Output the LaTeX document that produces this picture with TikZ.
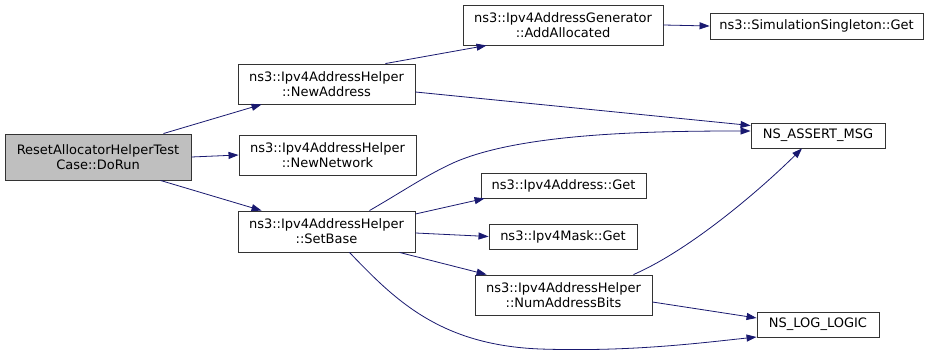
\documentclass[tikz,border=0pt]{standalone}
\usepackage{fontspec}
\setmainfont{DejaVu Sans}
\usetikzlibrary{arrows.meta}
\definecolor{edgeblue}{HTML}{191970}
\definecolor{boxgray}{HTML}{BFBFBF}
\begin{document}
\begin{tikzpicture}[x=1pt,y=-1pt,
  fn/.style={draw=black!80, line width=0.9pt, fill=white, inner sep=0pt,
    align=center, font=\fontsize{13}{15}\selectfont},
  root/.style={fn, fill=boxgray},
  call/.style={draw=edgeblue, line width=0.8pt,
    -{Triangle[length=10pt,width=7pt]}}]
\useasboundingbox (0,0) rectangle (931,355);
\fill[white] (0,0) rectangle (931,355);

% caller and its direct callees
\node[root, minimum width=186pt, minimum height=46pt] (run) at (98,157)
  {ResetAllocatorHelperTest\\Case::DoRun};
\node[fn, minimum width=177pt, minimum height=40pt] (newaddr) at (326.5,84)
  {ns3::Ipv4AddressHelper\\::NewAddress};
\node[fn, minimum width=177pt, minimum height=40pt] (newnet) at (327.5,155)
  {ns3::Ipv4AddressHelper\\::NewNetwork};
\node[fn, minimum width=177pt, minimum height=41pt] (setbase) at (326.5,231.5)
  {ns3::Ipv4AddressHelper\\::SetBase};

% second level
\node[fn, minimum width=200pt, minimum height=40pt] (addalloc) at (563,25)
  {ns3::Ipv4AddressGenerator\\::AddAllocated};
\node[fn, minimum width=165pt, minimum height=25pt] (addrget) at (563.5,185.5)
  {ns3::Ipv4Address::Get};
\node[fn, minimum width=148pt, minimum height=25pt] (maskget) at (563,236.5)
  {ns3::Ipv4Mask::Get};
\node[fn, minimum width=177pt, minimum height=40pt] (numbits) at (563.5,295)
  {ns3::Ipv4AddressHelper\\::NumAddressBits};

% third level
\node[fn, minimum width=213pt, minimum height=26pt] (singleton) at (816.5,26)
  {ns3::SimulationSingleton::Get};
\node[fn, minimum width=134pt, minimum height=25pt] (assert) at (818,135.5)
  {NS\_ASSERT\_MSG};
\node[fn, minimum width=122pt, minimum height=25pt] (loglogic) at (818,324.5)
  {NS\_LOG\_LOGIC};

% calls (yshift is in canvas direction: positive moves up)
\draw[call] (run.north east) ++(-28,0) -- ([xshift=24pt]newaddr.south west);
\draw[call] (run.east) -- (newnet.west);
\draw[call] (run.south east) ++(-31,0) -- ([xshift=24pt]setbase.north west);

\draw[call] (newaddr.north east) ++(-30,0) -- ([xshift=24pt]addalloc.south west);
\draw[call] (addalloc.east) -- (singleton.west);
\draw[call] ([yshift=-8pt]newaddr.east) -- ([yshift=10pt]assert.west);

\draw[call] ([xshift=43pt]setbase.north) .. controls (405,190) and (425,176) ..
  (453,163) .. controls (520,133) and (650,131) .. ([yshift=4.5pt]assert.west);
\draw[call] ([yshift=17.5pt]setbase.east) -- ([xshift=4pt]addrget.south west);
\draw[call] ([yshift=-1.5pt]setbase.east) -- (maskget.west);
\draw[call] ([xshift=73pt]setbase.south) -- ([xshift=12pt]numbits.north west);
\draw[call] ([xshift=23pt]setbase.south) .. controls (395,300) and (440,345) ..
  (540,349) .. controls (630,352) and (700,343) .. ([yshift=-12.5pt]loglogic.west);

\draw[call] ([xshift=70pt]numbits.north) .. controls (690,250) and (760,190) ..
  ([xshift=-16pt]assert.south);
\draw[call] ([yshift=-7pt]numbits.east) -- ([yshift=6.5pt]loglogic.west);
\end{tikzpicture}
\end{document}
